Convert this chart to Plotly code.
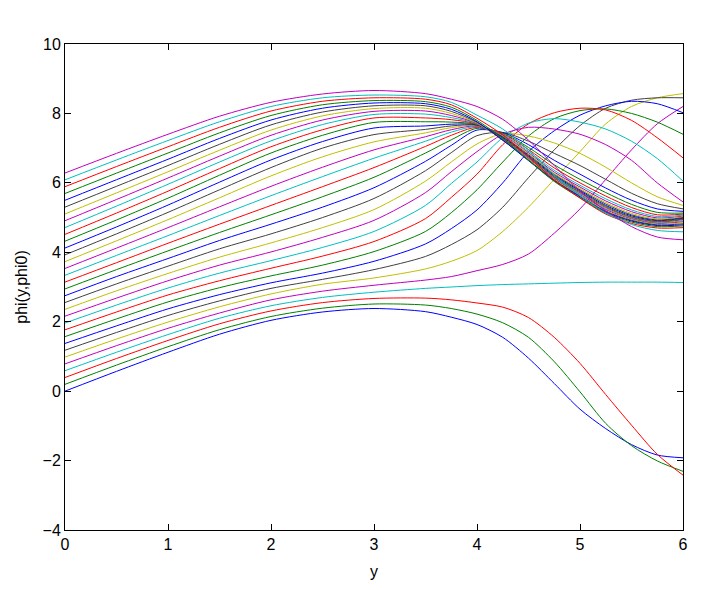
import plotly.graph_objects as go

# sample positions along y
y_vals = [0, 0.5, 1, 1.5, 2, 2.5, 3, 3.5, 3.75, 4, 4.25, 4.5, 4.75, 5, 5.25, 5.5, 5.75, 6]

# phi(y, phi0) for phi0 = 0, pi/16, ..., 2*pi
phi_00 = [0.000, 0.57, 1.12, 1.64, 2.04, 2.28, 2.38, 2.29, 2.13, 1.92, 1.55, 0.95, 0.22, -0.52, -1.08, -1.54, -1.84, -1.92]
phi_01 = [0.196, 0.75, 1.28, 1.77, 2.15, 2.39, 2.51, 2.48, 2.38, 2.22, 1.97, 1.55, 0.85, -0.02, -0.93, -1.57, -2.01, -2.31]
phi_02 = [0.393, 0.94, 1.46, 1.94, 2.31, 2.55, 2.67, 2.68, 2.63, 2.54, 2.42, 2.12, 1.55, 0.80, -0.10, -0.98, -1.82, -2.42]
phi_03 = [0.589, 1.12, 1.63, 2.10, 2.46, 2.70, 2.85, 2.96, 3.00, 3.04, 3.07, 3.09, 3.11, 3.13, 3.14, 3.14, 3.14, 3.13]
phi_04 = [0.785, 1.31, 1.81, 2.25, 2.63, 2.88, 3.05, 3.20, 3.30, 3.47, 3.65, 3.95, 4.55, 5.25, 6.10, 6.95, 7.70, 8.20]
phi_05 = [0.982, 1.50, 1.99, 2.43, 2.80, 3.08, 3.26, 3.52, 3.74, 4.05, 4.60, 5.30, 6.10, 6.90, 7.70, 8.20, 8.45, 8.57]
phi_06 = [1.178, 1.69, 2.18, 2.60, 2.96, 3.22, 3.50, 3.88, 4.22, 4.65, 5.30, 6.15, 6.95, 7.65, 8.15, 8.38, 8.45, 8.45]
phi_07 = [1.374, 1.88, 2.37, 2.78, 3.12, 3.40, 3.74, 4.24, 4.68, 5.22, 6.00, 6.90, 7.50, 7.95, 8.22, 8.35, 8.28, 8.02]
phi_08 = [1.571, 2.08, 2.57, 2.98, 3.32, 3.63, 4.02, 4.60, 5.14, 5.80, 6.60, 7.35, 7.85, 8.08, 8.13, 8.00, 7.75, 7.40]
phi_09 = [1.767, 2.28, 2.77, 3.18, 3.54, 3.89, 4.31, 4.97, 5.58, 6.25, 7.10, 7.70, 8.02, 8.15, 8.10, 7.80, 7.30, 6.72]
phi_10 = [1.963, 2.48, 2.97, 3.40, 3.76, 4.14, 4.60, 5.35, 5.98, 6.60, 7.30, 7.72, 7.85, 7.75, 7.55, 7.20, 6.70, 6.05]
phi_11 = [2.160, 2.68, 3.18, 3.63, 4.01, 4.43, 4.92, 5.72, 6.32, 6.90, 7.40, 7.60, 7.55, 7.40, 7.10, 6.65, 6.00, 5.45]
phi_12 = [2.356, 2.89, 3.39, 3.86, 4.27, 4.71, 5.23, 6.05, 6.60, 7.12, 7.42, 7.35, 7.15, 6.85, 6.45, 6.00, 5.60, 5.35]
phi_13 = [2.553, 3.09, 3.60, 4.10, 4.53, 5.00, 5.55, 6.35, 6.87, 7.36, 7.45, 7.20, 6.85, 6.50, 6.10, 5.70, 5.40, 5.25]
phi_14 = [2.749, 3.30, 3.82, 4.34, 4.81, 5.30, 5.86, 6.62, 7.08, 7.52, 7.45, 7.10, 6.65, 6.25, 5.85, 5.50, 5.25, 5.18]
phi_15 = [2.945, 3.50, 4.04, 4.57, 5.08, 5.60, 6.16, 6.86, 7.24, 7.57, 7.43, 7.02, 6.52, 6.10, 5.72, 5.38, 5.15, 5.13]
phi_16 = [3.142, 3.70, 4.26, 4.81, 5.35, 5.89, 6.44, 7.05, 7.37, 7.60, 7.41, 6.96, 6.43, 6.00, 5.62, 5.29, 5.08, 5.10]
phi_17 = [3.338, 3.91, 4.48, 5.06, 5.63, 6.18, 6.71, 7.20, 7.46, 7.62, 7.39, 6.91, 6.36, 5.93, 5.54, 5.22, 5.03, 5.07]
phi_18 = [3.534, 4.12, 4.71, 5.31, 5.90, 6.45, 6.95, 7.33, 7.53, 7.64, 7.37, 6.87, 6.31, 5.88, 5.48, 5.17, 4.99, 5.04]
phi_19 = [3.731, 4.33, 4.94, 5.57, 6.20, 6.75, 7.18, 7.44, 7.59, 7.65, 7.35, 6.84, 6.27, 5.84, 5.43, 5.12, 4.96, 5.02]
phi_20 = [3.927, 4.53, 5.15, 5.80, 6.44, 7.00, 7.39, 7.54, 7.64, 7.66, 7.33, 6.81, 6.24, 5.80, 5.39, 5.08, 4.93, 5.00]
phi_21 = [4.123, 4.73, 5.36, 6.02, 6.66, 7.19, 7.58, 7.64, 7.69, 7.67, 7.31, 6.78, 6.21, 5.77, 5.35, 5.05, 4.91, 4.98]
phi_22 = [4.320, 4.93, 5.56, 6.22, 6.86, 7.37, 7.74, 7.76, 7.75, 7.68, 7.29, 6.76, 6.18, 5.74, 5.32, 5.02, 4.89, 4.96]
phi_23 = [4.516, 5.13, 5.76, 6.41, 7.04, 7.53, 7.87, 7.87, 7.82, 7.69, 7.27, 6.74, 6.16, 5.71, 5.29, 5.00, 4.87, 4.94]
phi_24 = [4.712, 5.33, 5.96, 6.60, 7.21, 7.68, 7.97, 7.98, 7.88, 7.70, 7.25, 6.72, 6.14, 5.69, 5.26, 4.98, 4.85, 4.91]
phi_25 = [4.909, 5.52, 6.14, 6.77, 7.37, 7.81, 8.06, 8.07, 7.94, 7.71, 7.24, 6.70, 6.12, 5.66, 5.23, 4.96, 4.83, 4.88]
phi_26 = [5.105, 5.71, 6.32, 6.94, 7.52, 7.93, 8.14, 8.15, 8.00, 7.72, 7.23, 6.68, 6.10, 5.64, 5.20, 4.94, 4.81, 4.85]
phi_27 = [5.301, 5.90, 6.50, 7.11, 7.67, 8.04, 8.22, 8.22, 8.06, 7.74, 7.23, 6.66, 6.08, 5.62, 5.18, 4.92, 4.79, 4.82]
phi_28 = [5.498, 6.09, 6.68, 7.28, 7.81, 8.15, 8.30, 8.28, 8.12, 7.76, 7.23, 6.64, 6.06, 5.60, 5.16, 4.90, 4.77, 4.79]
phi_29 = [5.694, 6.28, 6.86, 7.44, 7.94, 8.25, 8.37, 8.34, 8.18, 7.80, 7.28, 6.65, 6.04, 5.57, 5.13, 4.87, 4.74, 4.76]
phi_30 = [5.890, 6.47, 7.04, 7.60, 8.07, 8.35, 8.45, 8.41, 8.25, 7.86, 7.38, 6.75, 6.08, 5.56, 5.10, 4.83, 4.70, 4.71]
phi_31 = [6.087, 6.66, 7.22, 7.76, 8.20, 8.45, 8.53, 8.48, 8.32, 7.95, 7.55, 6.95, 6.22, 5.63, 5.13, 4.80, 4.63, 4.59]
phi_32 = [6.283, 6.85, 7.40, 7.92, 8.32, 8.56, 8.66, 8.57, 8.41, 8.20, 7.83, 7.23, 6.50, 5.76, 5.20, 4.74, 4.44, 4.36]

curves = [phi_00, phi_01, phi_02, phi_03, phi_04, phi_05, phi_06, phi_07, phi_08,
          phi_09, phi_10, phi_11, phi_12, phi_13, phi_14, phi_15, phi_16, phi_17,
          phi_18, phi_19, phi_20, phi_21, phi_22, phi_23, phi_24, phi_25, phi_26,
          phi_27, phi_28, phi_29, phi_30, phi_31, phi_32]

# matlab's old colour order: b g r c m y k
color_order = ['#0000ff', '#008000', '#ff0000', '#00bfbf', '#bf00bf', '#bfbf00', '#404040']

fig = go.Figure()
for i, phi in enumerate(curves):
    fig.add_trace(go.Scatter(x=y_vals, y=phi,
                             mode='lines',
                             line=dict(color=color_order[i % 7], width=1,
                                       shape='spline', smoothing=0.8),
                             showlegend=False,
                             hoverinfo='skip'))

axis_style = dict(showline=True, linecolor='black', linewidth=1,
                  mirror='ticks', ticks='inside', ticklen=6,
                  tickcolor='black', showgrid=False, zeroline=False,
                  tickfont=dict(size=16, color='black'))

# page body adds an 8px offset, so the figure is 8px smaller than the window
fig.update_layout(width=699, height=582,
                  margin=dict(l=57, r=24, t=36, b=60),
                  paper_bgcolor='white', plot_bgcolor='white',
                  font=dict(family='Arial, Liberation Sans, sans-serif',
                            size=16, color='black'),
                  xaxis=dict(range=[0, 6], dtick=1,
                             title=dict(text='y', font=dict(size=16), standoff=13),
                             **axis_style),
                  yaxis=dict(range=[-4, 10], dtick=2,
                             title=dict(text='phi(y,phi0)', font=dict(size=16), standoff=10),
                             **axis_style),
                  )

fig.write_html("out.html")
